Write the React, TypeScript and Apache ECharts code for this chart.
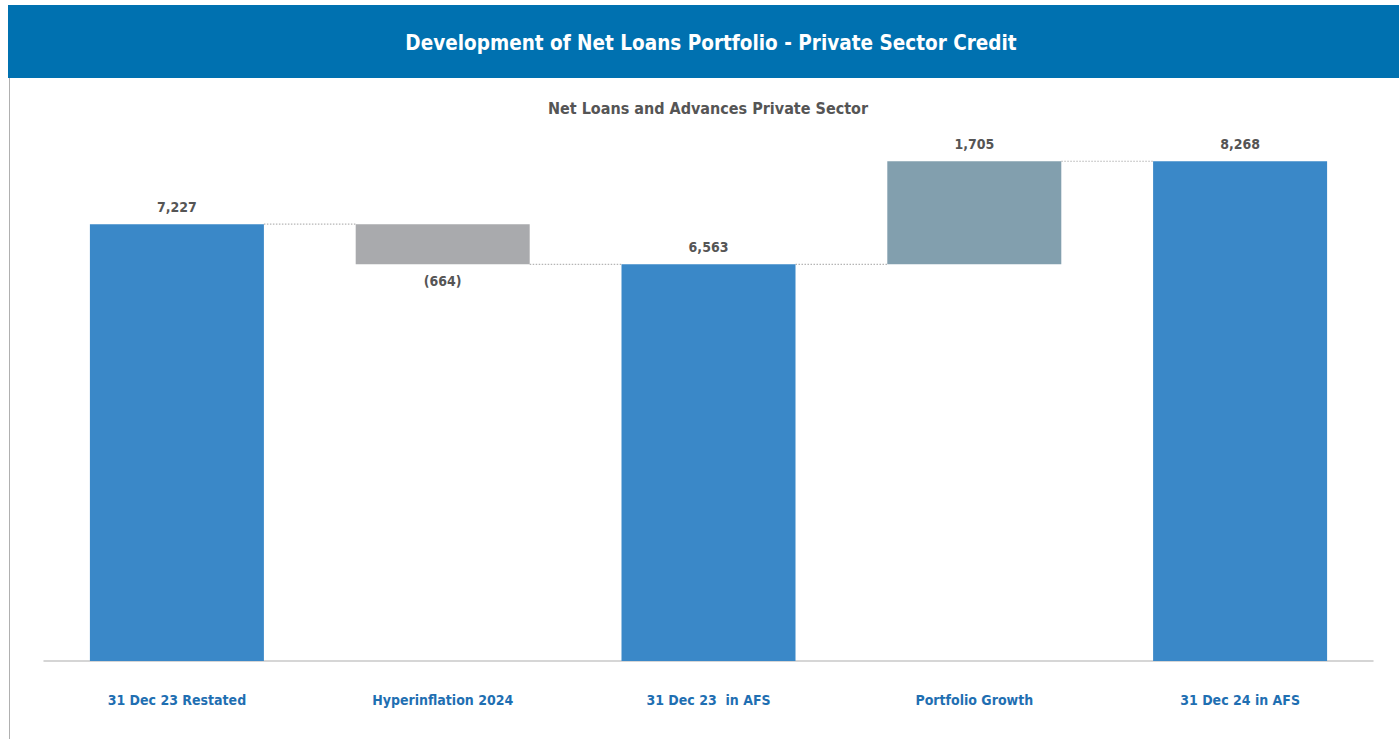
import React, { useEffect, useRef } from "react";
import * as echarts from "echarts";

const categories = ["31 Dec 23 Restated", "Hyperinflation 2024", "31 Dec 23  in AFS", "Portfolio Growth", "31 Dec 24 in AFS"];
const baseValues = [0, 6563, 0, 6563, 0];
const barValues = [7227, 664, 6563, 1705, 8268];
const barLabels = ["7,227", "(664)", "6,563", "1,705", "8,268"];
const labelBelow = [false, true, false, false, false];
const barKinds = ["total", "decrease", "total", "increase", "total"];
const connectorLevels = [7227, 6563, 6563, 8268];

const FONT = "'Liberation Sans Narrow', 'DejaVu Sans Condensed', 'Roboto Condensed', 'Open Sans', sans-serif";
const kindColor: Record<string, string> = { total: "#3a88c8", decrease: "#a9aaad", increase: "#829fae" };
const BAR_W = 174;

export default function App() {
  const ref = useRef<HTMLDivElement>(null);
  useEffect(() => {
    if (!ref.current) return;
    const chart = echarts.init(ref.current, undefined, { renderer: "svg" });
    chart.setOption({
      animation: false,
      backgroundColor: "#ffffff",
      textStyle: { fontFamily: FONT },
      graphic: [
        { type: "rect", shape: { x: 8, y: 5, width: 1391, height: 73 }, style: { fill: "#0071b0" } },
        { type: "line", shape: { x1: 9.5, y1: 78, x2: 9.5, y2: 739 }, style: { stroke: "#b0b0b0", lineWidth: 1 } },
        {
          type: "text", x: 711, y: 43,
          style: { text: "Development of Net Loans Portfolio - Private Sector Credit", fill: "#ffffff", font: `bold 20.5px ${FONT}`, align: "center", verticalAlign: "middle" },
        },
        {
          type: "text", x: 708, y: 108,
          style: { text: "Net Loans and Advances Private Sector", fill: "#555555", font: `bold 16px ${FONT}`, align: "center", verticalAlign: "middle" },
        },
      ],
      grid: { left: 44, right: 26, top: 117, bottom: 78 },
      xAxis: {
        type: "category",
        data: categories,
        axisLine: { show: true, lineStyle: { color: "#c8c8c8", width: 1.5 } },
        axisTick: { show: false },
        axisLabel: { color: "#1f6fb2", fontSize: 14, fontWeight: "bold", fontFamily: FONT, margin: 32 },
      },
      yAxis: { type: "value", min: 0, max: 9000, show: false, splitLine: { show: false } },
      series: [
        {
          type: "bar", stack: "w", barWidth: BAR_W, silent: true,
          itemStyle: { color: "transparent" },
          data: baseValues,
        },
        {
          type: "bar", stack: "w", barWidth: BAR_W,
          data: barValues.map((v, i) => ({
            value: v,
            itemStyle: { color: kindColor[barKinds[i]] },
            label: {
              show: true,
              position: labelBelow[i] ? "bottom" : "top",
              distance: 10,
              formatter: barLabels[i],
              color: "#555555",
              fontSize: 14,
              fontWeight: "bold",
              fontFamily: FONT,
            },
          })),
        },
        {
          type: "custom",
          silent: true,
          data: connectorLevels.map((v, i) => [i, v]),
          renderItem: (params: any, api: any) => {
            const i = api.value(0);
            const v = api.value(1);
            const p = api.coord([i, v]);
            const band = api.size([1, 0])[0];
            const x1 = p[0] + BAR_W / 2;
            const x2 = p[0] + band - BAR_W / 2;
            return {
              type: "line",
              shape: { x1, y1: p[1], x2, y2: p[1] },
              style: { stroke: "#b5b5b5", lineWidth: 1.2, lineDash: [1.5, 1.5] },
            };
          },
        },
      ],
    });
    return () => chart.dispose();
  }, []);
  return <div ref={ref} style={{ position: "fixed", left: 0, top: 0, width: 1399, height: 739 }} />;
}
